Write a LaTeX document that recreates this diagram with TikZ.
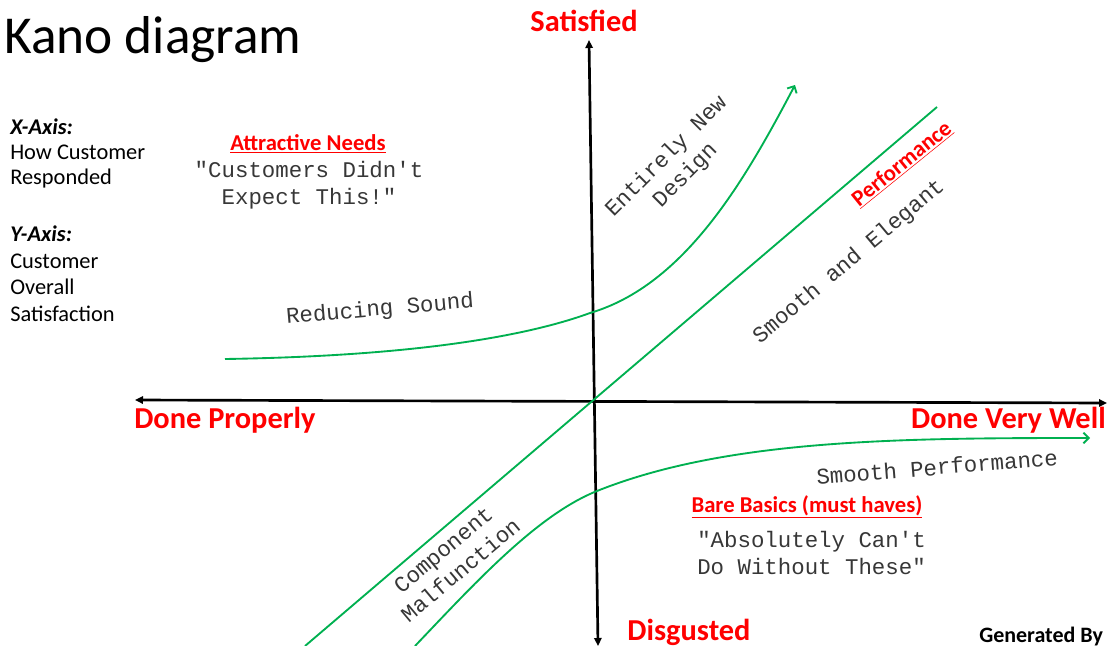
\documentclass[tikz,border=0pt]{standalone}
\usepackage{fontspec}
\setmainfont{Carlito}
\newfontfamily\monofont{Liberation Mono}
\usetikzlibrary{arrows.meta}
\definecolor{kred}{RGB}{255,0,0}
\definecolor{kgreen}{RGB}{0,176,80}
\definecolor{ktext}{RGB}{55,55,55}
\tikzset{
  axislabel/.style={text=kred, font=\fontsize{22.8}{27}\selectfont\bfseries, inner sep=0pt},
  heading/.style={text=kred, font=\fontsize{17}{20}\selectfont\bfseries, inner sep=0pt},
  mono/.style={text=ktext, font=\monofont\fontsize{16.8}{20.25}\selectfont, inner sep=0pt, align=center},
  side/.style={font=\fontsize{16.8}{20}\selectfont, anchor=west, inner sep=0pt},
  sidehead/.style={side, font=\fontsize{16.8}{20}\selectfont\bfseries\itshape},
  axisline/.style={line width=2pt, {Triangle[length=6pt,width=5.5pt]}-{Triangle[length=6pt,width=5.5pt]}},
  curve/.style={draw=kgreen, line width=1.4pt},
  curvearrow/.style={curve, -{Straight Barb[length=4pt,width=8pt,line width=1.4pt]}},
}
\begin{document}
\begin{tikzpicture}[x=0.75pt, y=-0.75pt]
\useasboundingbox (0,0) rectangle (1107,646);

% title and axis legend
\node[anchor=base west, inner sep=0pt, font=\fontsize{40}{48}\selectfont] (title) at (4,53) {Kano diagram};
\node[sidehead] (xhead) at (10,127) {X-Axis:};
\node[side] (xl1) at (10,152) {How Customer};
\node[side] (xl2) at (10,179) {Responded};
\node[sidehead] (yhead) at (10,234) {Y-Axis:};
\node[side] (yl1) at (10,261) {Customer};
\node[side] (yl2) at (10,287) {Overall};
\node[side] (yl3) at (10,314) {Satisfaction};

% axes
\coordinate (xl) at (135,400);
\coordinate (xr) at (1107,403);
\coordinate (yt) at (589,40);
\coordinate (yb) at (598,646);
\draw[axisline] (xl) -- (xr);
\draw[axisline] (yb) -- (yt);

\node[axislabel] (sat) at (584,21) {Satisfied};
\node[axislabel] (dis) at (689,632) {Disgusted};
\node[axislabel, anchor=west] (dp) at (134,420) {Done Properly};
\node[axislabel, anchor=east] (dvw) at (1106,420) {Done Very Well};

% attractive curve
\coordinate (a0) at (225,359);
\coordinate (a1) at (590,313);
\coordinate (a2) at (795,85);
\draw[curvearrow] (a0) .. controls (420,356) and (530,335) .. (a1)
  .. controls (685,285) and (745,180) .. (a2);

% performance line
\coordinate (p0) at (305,646);
\coordinate (p1) at (937,107);
\draw[curve] (p0) -- (p1);

% must-be curve
\coordinate (m0) at (415,646);
\coordinate (m1) at (597,491);
\coordinate (m2) at (1090,438);
\draw[curvearrow] (m0) .. controls (475,583) and (537,515) .. (m1)
  .. controls (727,439) and (900,438) .. (m2);

% region texts
\node[heading] (att) at (308,144) {\underline{Attractive Needs}};
\node[mono] (attq) at (309,185) {"Customers Didn't\\Expect This!"};
\node[mono, rotate=5] (red) at (380,310) {Reducing Sound};
\node[mono, rotate=45] (new) at (676,166) {Entirely New\\Design};
\node[heading, rotate=39] (perf) at (902,164) {\underline{Performance}};
\node[mono, rotate=40] (elegant) at (849,262) {Smooth and Elegant};
\node[mono, rotate=4.5] (smooth) at (937,467) {Smooth Performance};
\node[heading] (bare) at (807,507) {\underline{Bare Basics (must haves)}};
\node[mono, align=left, anchor=north west] (bareq) at (697,531) {"Absolutely Can't\\Do Without These"};
\node[mono, rotate=40] (comp) at (452,560) {Component\\Malfunction};

\node[inner sep=0pt, anchor=west, font=\fontsize{16.5}{19}\selectfont\bfseries] (gen) at (979,637) {Generated By};
\end{tikzpicture}
\end{document}
